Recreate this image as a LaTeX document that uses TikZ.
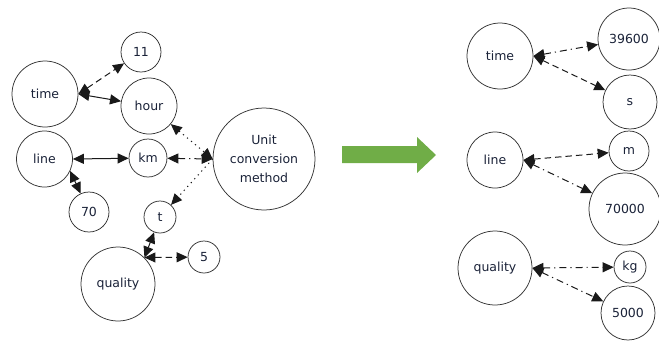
\documentclass[tikz,border=0pt]{standalone}
\usepackage{fontspec}
\setmainfont{DejaVu Sans}
\usetikzlibrary{arrows.meta}
\definecolor{arrowgreen}{HTML}{70AD47}
\definecolor{inkblue}{HTML}{1A2238}
\tikzset{
  bubble/.style={circle, draw=black!80, line width=0.75pt, inner sep=0pt,
    minimum size=#1, font=\fontsize{12.5}{19}\selectfont, text=inkblue},
  tip/.style={Triangle[length=11pt,width=10pt]},
  link/.style={line width=1pt, draw=black!90, {Triangle[length=11pt,width=10pt]}-{Triangle[length=11pt,width=10pt]}},
  headend/.style={line width=1pt, draw=black!90, -{Triangle[length=11pt,width=10pt]}},
  longdash/.style={dash pattern=on 6.5pt off 4pt},
  dashdot/.style={dash pattern=on 7pt off 4pt on 1.2pt off 4pt},
  dots/.style={dash pattern=on 1.2pt off 4pt},
}
\begin{document}
\begin{tikzpicture}[x=1pt,y=-1pt]
\useasboundingbox (0,0) rectangle (659,341);

% source graph
\node[bubble=66pt] (ltime) at (45,94) {time};
\node[bubble=40pt] (n11) at (141,52) {11};
\node[bubble=56pt] (hour) at (149,106) {hour};
\node[bubble=56pt] (lline) at (44.5,159) {line};
\node[bubble=38pt] (km) at (148,158) {km};
\node[bubble=102pt, align=center] (unit) at (264,159) {Unit\\conversion\\method};
\node[bubble=40pt] (n70) at (89,212) {70};
\node[bubble=32pt] (t) at (160,217) {t};
\node[bubble=32pt] (n5) at (204,257) {5};
\node[bubble=74pt] (lquality) at (118,284) {quality};

\draw[link, longdash] (ltime.east) -- (n11);
\draw[link] (ltime.east) -- (hour);
\draw[link] (lline.east) -- (km);
\draw[link] (lline.-25) -- (n70);
\draw[link, dots] (hour) -- (unit.west);
\draw[link, dashdot] (km) -- (unit.west);
\draw[headend, dots] (unit.west) -- (t);
\draw[link] (lquality.north east) -- (t);
\draw[link, longdash] (lquality.north east) -- (n5);

% transition arrow
\fill[arrowgreen] (342,146) -- (417,146) -- (417,137) -- (436,155)
  -- (417,173) -- (417,163) -- (342,163) -- cycle;

% converted graph
\node[bubble=66pt] (rtime) at (500,56) {time};
\node[bubble=62pt] (n39600) at (629,39) {39600};
\node[bubble=54pt] (s) at (630,102) {s};
\node[bubble=56pt] (rline) at (495,160) {line};
\node[bubble=40pt] (m) at (629,151) {m};
\node[bubble=72pt] (n70000) at (625,209) {70000};
\node[bubble=74pt] (rquality) at (495,268) {quality};
\node[bubble=32pt] (kg) at (630,267) {kg};
\node[bubble=54pt] (n5000) at (628,313) {5000};

\draw[link, dashdot] (rtime.east) -- (n39600);
\draw[link, longdash] (rtime.east) -- (s);
\draw[link, longdash] (rline.east) -- (m);
\draw[link, dashdot] (rline.east) -- (n70000);
\draw[link, dashdot] (rquality.east) -- (kg);
\draw[link, dashdot] (rquality.east) -- (n5000);
\end{tikzpicture}
\end{document}
